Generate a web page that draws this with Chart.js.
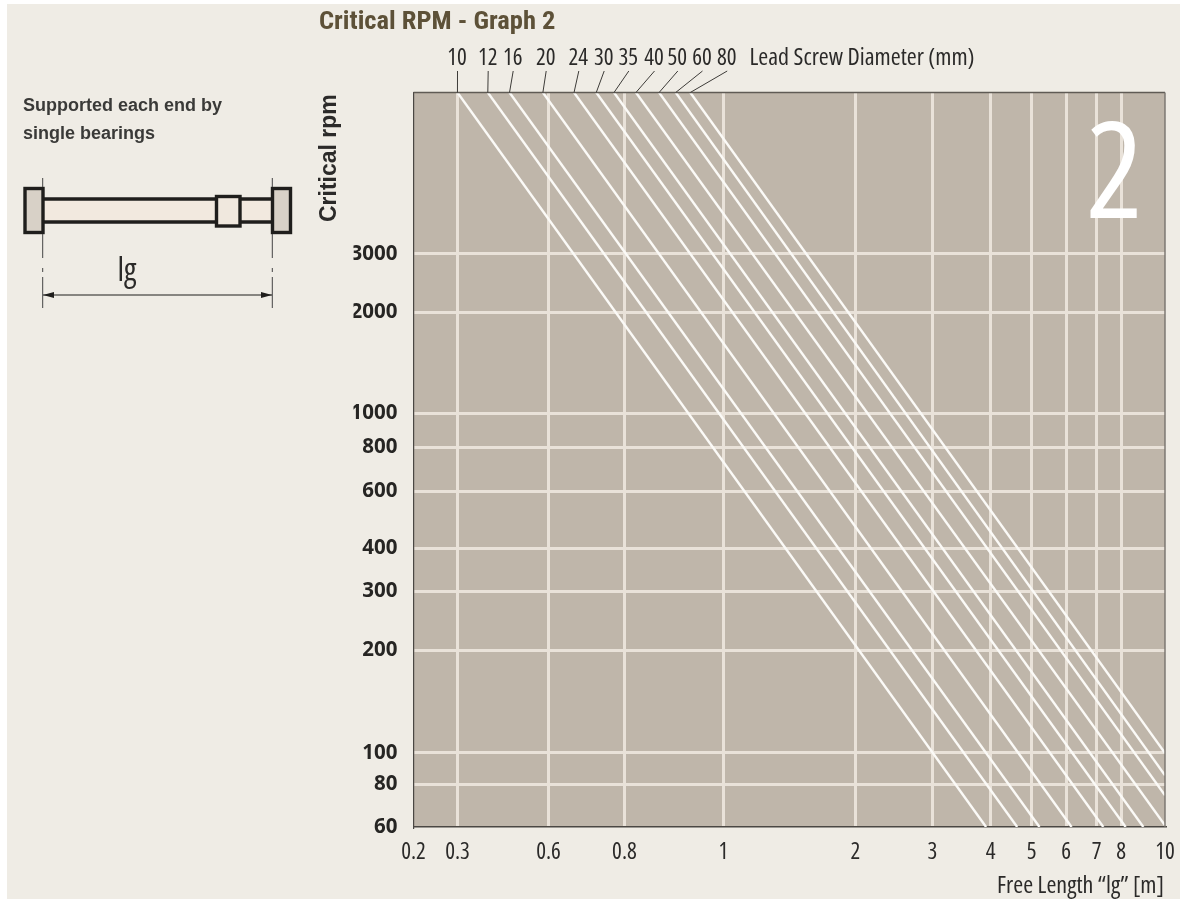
<!DOCTYPE html>
<html><head><meta charset="utf-8">
<style>
html,body{margin:0;padding:0;background:#fff;width:1180px;height:899px;overflow:hidden}
#panel{position:absolute;left:7px;top:4px;width:1173px;height:895px;background:#efece5}
canvas{position:absolute;left:0;top:0;display:block}
</style>
<script src="https://cdn.jsdelivr.net/npm/chart.js@4/dist/chart.umd.js"></script>
</head><body><div id="panel"></div><canvas id="c" width="1180" height="899"></canvas>
<script>
// Data
const diameters   = [10,12,16,20,24,30,35,40,50,60,80];
const startLength = [0.3,0.378,0.446,0.575,0.661,0.719,0.769,0.821,0.865,0.898,0.928];
const startRpm    = [9000,9000,9000,9000,9000,9000,9000,9000,9000,9000,9000];
const endLength   = [3.91,4.62,5.21,6.17,7.26,8.19,8.96,10,10,10,10];
const endRpm      = [60,60,60,60,60,60,60,60.7,74.4,85.4,99.7];
const xTicks = [0.2,0.3,0.6,0.8,1,2,3,4,5,6,7,8,10];
const yTicks = [60,80,100,200,300,400,600,800,1000,2000,3000];
const yTop = 9000;
// The printed axes are not strictly logarithmic: where each tick sits along its axis (0..1)
const xTickAt = [0,.0585,.1796,.2807,.4124,.5880,.6904,.7681,.8227,.8683,.9091,.9415,1];
const yTickAt = [0,.0578,.1011,.2403,.3207,.3793,.4574,.5169,.5636,.7008,.7802,1];
const axisTables = {x:{v:xTicks,f:xTickAt}, y:{v:[...yTicks,yTop],f:yTickAt}};

const LogScale = Chart.registry.getScale('logarithmic');
class PrintedLogScale extends LogScale {
  static id = 'printedLog';
  static defaults = LogScale.defaults;
  getPixelForValue(value){
    const {v,f} = axisTables[this.id];
    if (value==null || isNaN(value)) return NaN;
    let i = 0;
    while (i < v.length-2 && value > v[i+1]) i++;
    const t = Math.log(value/v[i]) / Math.log(v[i+1]/v[i]);
    return this.getPixelForDecimal(f[i] + t*(f[i+1]-f[i]));
  }
}
Chart.register(PrintedLogScale);

const COND = '"Open Sans",sans-serif';
const LABEL = '#2b2a29', GRID = '#e9e2d9', PLOT = '#bfb6aa';
const labelCenters = [457,487.7,512.7,545.7,578.3,603.7,628.3,654,677.3,702,726.7];

function text(ctx,s,x,y,font,color,align){
  ctx.font=font; ctx.fillStyle=color; ctx.textAlign=align||'left'; ctx.textBaseline='alphabetic';
  ctx.fillText(s,x,y);
}
function line(ctx,x1,y1,x2,y2,w,color){
  ctx.beginPath(); ctx.moveTo(x1,y1); ctx.lineTo(x2,y2); ctx.lineWidth=w; ctx.strokeStyle=color; ctx.stroke();
}
function box(ctx,x,y,w,h,fill){
  ctx.fillStyle=fill; ctx.fillRect(x,y,w,h);
  ctx.lineWidth=3.4; ctx.strokeStyle='#1f1e1c'; ctx.strokeRect(x,y,w,h);
}
const decor = {
  id:'decor',
  beforeDraw(chart){
    const {ctx,chartArea:a}=chart;
    ctx.save(); ctx.fillStyle=PLOT; ctx.fillRect(a.left,a.top,a.right-a.left,a.bottom-a.top); ctx.restore();
  },
  afterDraw(chart){
    const {ctx,chartArea:a,scales}=chart;
    ctx.save();
    // plot frame
    line(ctx,a.left,a.top,a.right,a.top,1.4,'#5f5b55');
    line(ctx,a.right,a.top,a.right,a.bottom,1.4,'#77736d');
    // big numeral
    text(ctx,'2',1114.5,218,'condensed 500 134px '+COND,'#ffffff','center');
    // titles
    text(ctx,'Critical RPM - Graph 2',319,28.5,'bold 26.5px "Roboto Condensed",sans-serif','#5d5138');
    text(ctx,'Lead Screw Diameter (mm)',749.5,65,'condensed 24px '+COND,LABEL);
    text(ctx,'Free Length \u201Clg\u201D [m]',1164,893,'condensed 24px '+COND,LABEL,'right');
    // diameter labels with leaders
    diameters.forEach((d,i)=>{
      const cx=labelCenters[i];
      text(ctx,String(d),cx,65,'condensed 23px '+COND,LABEL,'center');
      line(ctx,cx+0.5,71,scales.x.getPixelForValue(startLength[i]),a.top,1,'#3d3b38');
    });
    // rotated axis title
    ctx.save(); ctx.translate(336,222); ctx.rotate(-Math.PI/2);
    text(ctx,'Critical rpm',0,0,'bold 23px "Liberation Sans",sans-serif','#2b2a29');
    ctx.restore();
    // side note
    text(ctx,'Supported each end by',23,110.5,'bold 18px "Liberation Sans",sans-serif','#3a3a38');
    text(ctx,'single bearings',23,139,'bold 18px "Liberation Sans",sans-serif','#3a3a38');
    // bearing sketch
    ctx.fillStyle='#f2e9df'; ctx.fillRect(44,199,228,23);
    line(ctx,44,199,272,199,3.4,'#1f1e1c');
    line(ctx,44,222,272,222,3.4,'#1f1e1c');
    box(ctx,216.5,196.5,23.5,29.5,'#f0e8de');
    box(ctx,25,188.5,18,44,'#d8d1c7');
    box(ctx,272.5,188.5,18,44,'#d8d1c7');
    [42.7,272.3].forEach(x=>{
      line(ctx,x,178,x,187,1,'#444');
      line(ctx,x,234,x,258,1,'#444');
      line(ctx,x,268,x,272,1,'#444');
      line(ctx,x,277,x,308,1,'#444');
    });
    line(ctx,43,295,272,295,1,'#1f1e1c');
    ctx.fillStyle='#1f1e1c';
    ctx.beginPath(); ctx.moveTo(43,295); ctx.lineTo(54,292); ctx.lineTo(54,298); ctx.closePath(); ctx.fill();
    ctx.beginPath(); ctx.moveTo(272,295); ctx.lineTo(261,292); ctx.lineTo(261,298); ctx.closePath(); ctx.fill();
    text(ctx,'lg',127,281,'condensed 32px '+COND,LABEL,'center');
    ctx.restore();
  }
};

const datasets = diameters.map((d,i)=>({
  label:d+' mm',
  data:[{x:startLength[i],y:startRpm[i]},{x:endLength[i],y:endRpm[i]}],
  borderColor:'#fbfaf7', borderWidth:2.4, pointRadius:0, tension:0, fill:false
}));

function noPad(s){s.paddingLeft=0;s.paddingRight=0;s.paddingTop=0;s.paddingBottom=0;}

new Chart(document.getElementById('c'),{
  type:'line',
  data:{datasets},
  plugins:[decor],
  options:{
    responsive:false, animation:false, events:[],
    layout:{padding:{left:353.5,right:15,top:92.5,bottom:22}},
    plugins:{legend:{display:false},tooltip:{enabled:false},title:{display:false}},
    scales:{
      x:{type:'printedLog',position:'bottom',min:0.2,max:10,
        afterBuildTicks(s){s.ticks=xTicks.map(v=>({value:v}));},
        afterFit(s){s.height=50;noPad(s);},
        grid:{drawTicks:false,lineWidth:3,color:c=>(c.tick&&(c.tick.value===0.2||c.tick.value===10))?'rgba(0,0,0,0)':GRID},
        border:{display:true,color:'#4a4743',width:1.4},
        ticks:{autoSkip:false,maxRotation:0,padding:12,color:LABEL,font:{family:COND,size:23,weight:'condensed'},callback:v=>String(v)}
      },
      y:{type:'printedLog',position:'left',min:60,max:yTop,
        afterBuildTicks(s){s.ticks=yTicks.map(v=>({value:v}));},
        afterFit(s){s.width=60;noPad(s);},
        grid:{drawTicks:false,lineWidth:3,color:c=>(c.tick&&c.tick.value===60)?'rgba(0,0,0,0)':GRID},
        border:{display:true,color:'#4a4743',width:1.2},
        ticks:{autoSkip:false,padding:16,color:'#262523',font:{family:COND,size:20.5,weight:'bold'},callback:v=>String(v)}
      }
    }
  }
});
</script></body></html>
